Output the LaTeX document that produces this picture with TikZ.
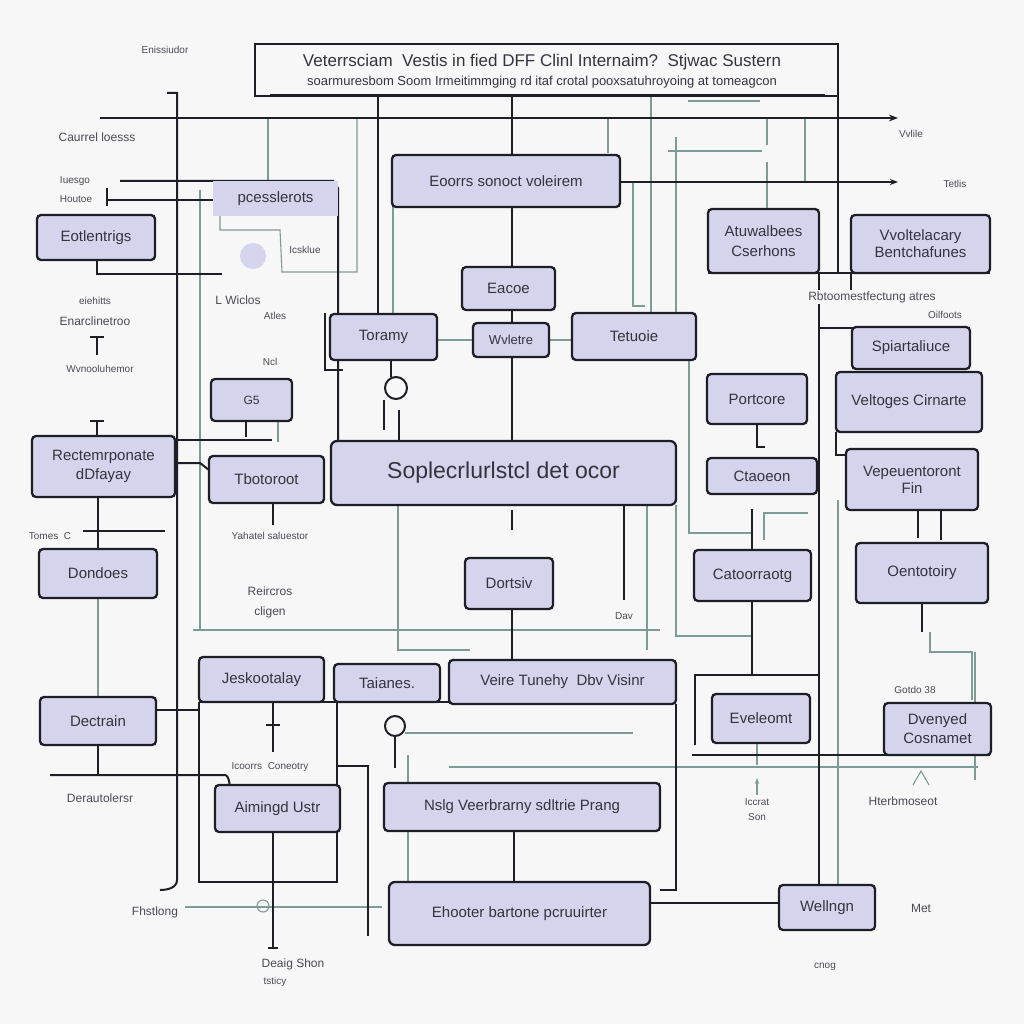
\documentclass[tikz,border=0pt]{standalone}
\usepackage{fontspec}
\setmainfont{Liberation Sans}
\usetikzlibrary{arrows.meta}
\definecolor{bg}{HTML}{F7F7F8}
\definecolor{lav}{HTML}{D4D4EC}
\definecolor{ink}{HTML}{1E1E26}
\definecolor{txt}{HTML}{34343F}
\definecolor{lbl}{HTML}{4A4A52}
\definecolor{thin}{HTML}{7E9C96}
\tikzset{
  box/.style={draw=ink, line width=2.3pt, fill=lav, rounded corners=4pt, inner sep=0pt,
    text=txt, font=\fontsize{15}{17}\selectfont, align=center},
  lab/.style={text=lbl, font=\fontsize{12}{14}\selectfont, inner sep=1pt, align=center},
  slab/.style={lab, font=\fontsize{10}{12}\selectfont},
  thk/.style={draw=ink, line width=2pt},
  gry/.style={draw=thin, line width=1.1pt},
}
\begin{document}
\begin{tikzpicture}[x=1pt,y=-1pt]
\fill[bg] (0,0) rectangle (1024,1024);
\useasboundingbox (0,0) rectangle (1024,1024);

% ---------- background connectors (gray) ----------
\draw[gry] (200,190) -- (200,630);
\draw[gry] (193,630) -- (660,630);
\draw[gry] (268,118) -- (268,181);
\draw[gry] (357,118) -- (357,272) -- (282,272) -- (280,230) -- (220,230) -- (220,216);
\draw[gry] (393,207) -- (393,314);
\draw[gry] (608,118) -- (608,153);
\draw[gry] (651,96) -- (651,313);
\draw[gry] (676,137) -- (676,313);
\draw[gry] (767,118) -- (767,145);
\draw[gry] (767,162) -- (767,209);
\draw[gry] (805,118) -- (805,182);
\draw[gry] (633,182) -- (633,306) -- (645,306);
\draw[gry] (668,151) -- (762,151);
\draw[gry] (398,505) -- (398,650) -- (470,650);
\draw[gry] (647,505) -- (647,650);
\draw[gry] (689,320) -- (689,533) -- (752,533);
\draw[gry] (676,505) -- (676,636) -- (752,636);
\draw[gry] (764,540) -- (764,513) -- (808,513);
\draw[gry] (838,500) -- (838,885);
\draw[gry] (930,632) -- (930,652) -- (972,652) -- (972,700);
\draw[gry] (975,652) -- (975,780);
\draw[gry] (405,733) -- (633,733);
\draw[gry] (449,767) -- (978,767);
\draw[gry] (408,755) -- (408,882);
\draw[gry] (98,598) -- (98,697);
\draw[gry] (185,907) -- (382,907);
\draw[gry] (757,743) -- (757,765);
\draw[gry] (437,340) -- (473,340);
\draw[gry] (549,340) -- (572,340);
\draw[gry] (278,421) -- (278,442);
\draw[gry] (688,101) -- (760,101);
\draw[gry] (910,742) -- (975,742);

% ---------- thick connectors ----------
\coordinate (a0) at (100,118);
\coordinate (a1) at (898,118);
\draw[thk,-{Stealth[length=9pt]}] (a0) -- (a1);
\coordinate (b0) at (620,182);
\coordinate (b1) at (898,182);
\draw[thk,-{Stealth[length=8pt]}] (b0) -- (b1);
\draw[thk] (167,93) -- (177,93) -- (177,880) to[out=-90,in=0] (160,890);
\draw[thk] (378,96) -- (378,314);
\draw[thk] (512,96) -- (512,155);
\draw[thk] (512,207) -- (512,267);
\draw[thk] (512,310) -- (512,323);
\draw[thk] (512,357) -- (512,441);
\draw[thk] (838,96) -- (838,272);
\draw[thk] (120,181) -- (333,181) -- (338,188) -- (338,441);
\draw[thk] (107,188) -- (107,206) (107,200) -- (213,200);
\draw[thk] (97,260) -- (97,274) -- (222,274);
\draw[thk] (90,337) -- (104,337) (97,337) -- (97,355);
\draw[thk] (325,313) -- (325,370) -- (343,370);
\draw[thk] (391,360) -- (391,377);
\draw[thk] (396,388) circle[radius=11pt];
\draw[thk] (384,400) -- (384,430) (399,410) -- (399,441);
\draw[thk] (177,440) -- (272,440);
\draw[thk] (177,463) -- (200,463) -- (209,470);
\draw[thk] (246,421) -- (246,437);
\draw[thk] (273,503) -- (273,525);
\draw[thk] (98,497) -- (98,549);
\draw[thk] (83,531) -- (165,531);
\draw[thk] (90,421) -- (104,421) (97,421) -- (97,436);
\draw[thk] (512,510) -- (512,530);
\draw[thk] (624,505) -- (624,600);
\draw[thk] (512,609) -- (512,660);
\draw[thk] (708,273) -- (990,273);
\draw[thk] (851,273) -- (851,290);
\draw[thk] (819,273) -- (819,885);
\draw[thk] (819,328) -- (970,328);
\draw[thk] (836,432) -- (836,455) -- (846,455);
\draw[thk] (757,424) -- (757,447) -- (765,447);
\draw[thk] (752,509) -- (752,550);
\draw[thk] (752,601) -- (752,675);
\draw[thk] (695,745) -- (695,675) -- (818,675);
\draw[thk] (692,755) -- (990,755);
\draw[thk] (918,510) -- (918,538) (941,510) -- (941,540);
\draw[thk] (922,603) -- (922,632);
\draw[thk] (156,710) -- (199,710);
\draw[thk] (98,745) -- (98,775);
\draw[thk] (50,775) -- (225,775) to[out=0,in=-90] (230,786);
\draw[thk] (199,702) -- (449,702);
\draw[thk] (273,702) -- (273,752) (266,725) -- (280,725);
\draw[thk] (199,702) -- (199,882) -- (337,882) -- (337,702);
\draw[thk] (337,766) -- (368,766) -- (368,936);
\draw[thk] (273,832) -- (273,948) (268,948) -- (278,948);
\draw[thk] (395,737) -- (395,768);
\draw[thk] (395,726) circle[radius=10pt];
\draw[thk] (676,704) -- (676,890) -- (660,890);
\draw[thk] (514,831) -- (514,882);
\draw[thk] (650,903) -- (779,903);
\draw[gry] (263,906) circle[radius=6pt];
\fill[lav] (253,256) circle[radius=13pt];
\draw[gry,-{Stealth[length=6pt]}] (757,795) -- (757,778);
\draw[gry] (913,785) -- (921,771) -- (929,785);

% ---------- title ----------
\node[draw=ink, line width=2pt, fill=bg, minimum width=583pt, minimum height=52pt, inner sep=0pt] (title) at (546.5,70) {};
\node[text=txt, font=\fontsize{17}{19}\selectfont, inner sep=0pt] (t1) at (542,62) {Veterrsciam\ \ Vestis in fied DFF Clinl Internaim?\ \ Stjwac Sustern};
\node[text=txt, font=\fontsize{13}{15}\selectfont, inner sep=0pt] (t2) at (542,82) {soarmuresbom Soom Irmeitimmging rd itaf crotal pooxsatuhroyoing at tomeagcon};
\draw[ink, line width=1pt] (270,95) -- (825,95);

% ---------- boxes ----------
\node[box, minimum width=228pt, minimum height=52pt] (eoorrs) at (506,181) {Eoorrs sonoct voleirem};
\node[box, draw=none, rounded corners=0pt, minimum width=125pt, minimum height=35pt] (pcess) at (275.5,198.5) {pcesslerots};
\node[box, minimum width=118pt, minimum height=45pt] (eotl) at (96,237.5) {Eotlentrigs};
\node[box, minimum width=111pt, minimum height=64pt] (atuw) at (763.5,241) {Atuwalbees\\[3pt]Cserhons};
\node[box, minimum width=139pt, minimum height=58pt] (vvol) at (920.5,244) {Vvoltelacary\\Bentchafunes};
\node[box, minimum width=93pt, minimum height=43pt] (eacoe) at (508.5,288.5) {Eacoe};
\node[box, minimum width=107pt, minimum height=46pt] (toramy) at (383.5,337) {Toramy};
\node[box, minimum width=76pt, minimum height=34pt, font=\fontsize{13}{15}\selectfont] (wvletre) at (511,340) {Wvletre};
\node[box, minimum width=124pt, minimum height=47pt] (tetuoie) at (634,336.5) {Tetuoie};
\node[box, minimum width=118pt, minimum height=42pt] (spiar) at (911,348) {Spiartaliuce};
\node[box, minimum width=100pt, minimum height=50pt] (portcore) at (757,399) {Portcore};
\node[box, minimum width=146pt, minimum height=60pt] (veltoges) at (909,402) {Veltoges Cirnarte};
\node[box, minimum width=81pt, minimum height=42pt, font=\fontsize{12}{14}\selectfont] (g5) at (251.5,400) {G5};
\node[box, minimum width=143pt, minimum height=61pt] (rect) at (103.5,466.5) {Rectemrponate\\[2pt]dDfayay};
\node[box, minimum width=115pt, minimum height=47pt] (tboto) at (266.5,479.5) {Tbotoroot};
\node[box, minimum width=345pt, minimum height=64pt, rounded corners=6pt, font=\fontsize{23}{26}\selectfont] (big) at (503.5,473) {Soplecrlurlstcl det ocor};
\node[box, minimum width=110pt, minimum height=36pt] (ctao) at (762,476) {Ctaoeon};
\node[box, minimum width=132pt, minimum height=61pt] (vepe) at (912,479.5) {Vepeuentoront\\Fin};
\node[box, minimum width=118pt, minimum height=49pt] (dond) at (98,573.5) {Dondoes};
\node[box, minimum width=88pt, minimum height=51pt] (dorts) at (509,583.5) {Dortsiv};
\node[box, minimum width=117pt, minimum height=51pt] (catoo) at (752.5,575.5) {Catoorraotg};
\node[box, minimum width=132pt, minimum height=60pt] (oent) at (922,573) {Oentotoiry};
\node[box, minimum width=125pt, minimum height=45pt] (jesk) at (261.5,679.5) {Jeskootalay};
\node[box, minimum width=106pt, minimum height=38pt] (taian) at (387,683) {Taianes.};
\node[box, minimum width=227pt, minimum height=44pt] (veire) at (562.5,682) {Veire Tunehy\ \ Dbv Visinr};
\node[box, minimum width=116pt, minimum height=48pt] (dectrain) at (98,721) {Dectrain};
\node[box, minimum width=98pt, minimum height=49pt] (evel) at (761,718.5) {Eveleomt};
\node[box, minimum width=107pt, minimum height=52pt] (dveny) at (937.5,729) {Dvenyed\\[2pt]Cosnamet};
\node[box, minimum width=125pt, minimum height=47pt] (aiming) at (277.5,808.5) {Aimingd Ustr};
\node[box, minimum width=276pt, minimum height=48pt] (nslg) at (522,807) {Nslg Veerbrarny sdltrie Prang};
\node[box, minimum width=261pt, minimum height=63pt, rounded corners=6pt] (ehoot) at (519.5,913.5) {Ehooter bartone pcruuirter};
\node[box, minimum width=96pt, minimum height=45pt] (welln) at (827,907.5) {Wellngn};

% ---------- free labels ----------
\node[slab] (l1) at (165,50) {Enissiudor};
\node[lab] (l2) at (97,137) {Caurrel loesss};
\node[slab] (l3) at (75,181) {Iuesgo};
\node[slab] (l4) at (76,199) {Houtoe};
\node[slab] (l5) at (305,250) {Icsklue};
\node[lab] (l6) at (238,300) {L Wiclos};
\node[slab] (l7) at (275,316) {Atles};
\node[slab] (l8) at (270,362) {Ncl};
\node[slab] (l9) at (95,301) {eiehitts};
\node[lab] (l10) at (95,321) {Enarclinetroo};
\node[slab] (l11) at (100,369) {Wvnooluhemor};
\node[slab] (l12) at (911,134) {Vvlile};
\node[slab] (l13) at (955,184) {Tetlis};
\node[lab, fill=bg] (l14) at (872,297) {Rbtoomestfectung atres};
\node[slab] (l15) at (945,315) {Oilfoots};
\node[slab] (l16) at (50,536) {Tomes\ \ C};
\node[slab] (l17) at (270,536) {Yahatel saluestor};
\node[lab] (l18) at (270,591) {Reircros};
\node[lab] (l19) at (270,612) {cligen};
\node[slab] (l20) at (624,616) {Dav};
\node[slab] (l21) at (915,690) {Gotdo 38};
\node[lab] (l22) at (100,798) {Derautolersr};
\node[slab] (l23) at (270,767) {Icoorrs\ \ Coneotry};
\node[slab] (l24) at (757,802) {Iccrat};
\node[slab] (l25) at (757,817) {Son};
\node[lab] (l26) at (903,801) {Hterbmoseot};
\node[lab] (l27) at (155,912) {Fhstlong};
\node[lab] (l28) at (293,964) {Deaig Shon};
\node[slab] (l29) at (275,982) {tsticy};
\node[lab] (l30) at (921,908) {Met};
\node[slab] (l31) at (825,967) {cnog};
\end{tikzpicture}
\end{document}
